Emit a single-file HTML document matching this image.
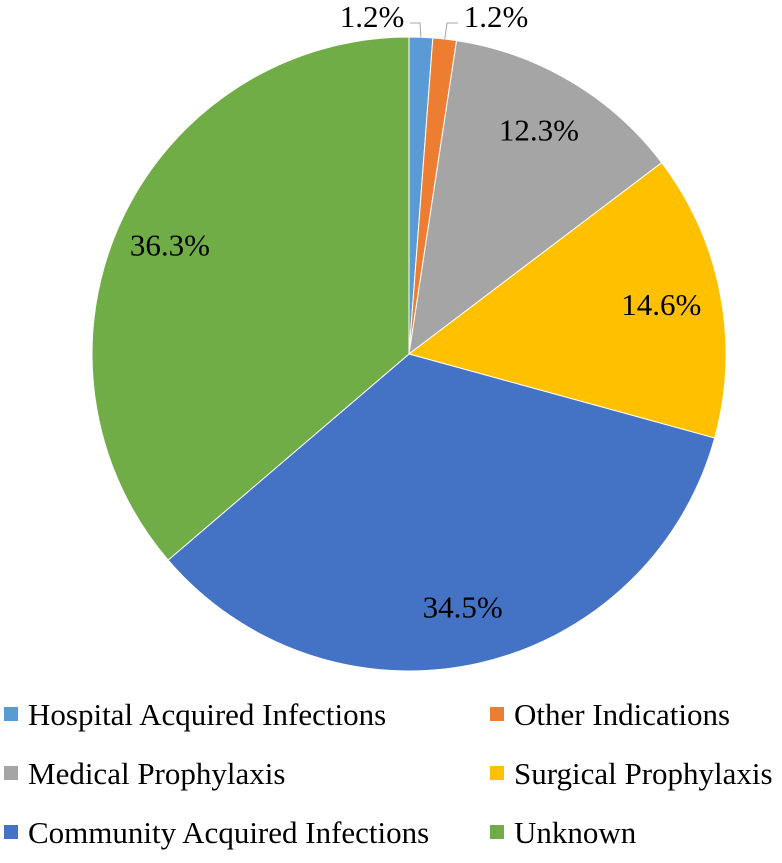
<!DOCTYPE html>
<html><head><meta charset="utf-8"><style>
body{margin:0;background:#fff;width:782px;height:858px;overflow:hidden}
text{font-family:"Liberation Serif","Times New Roman","Tinos","Nimbus Roman","DejaVu Serif",serif;font-size:31px;fill:#000}
</style></head><body>
<svg width="782" height="858">
<g id="slices"></g><g id="labels"></g><g id="legend"></g>
</svg>
<script>
const categories=["Hospital Acquired Infections","Other Indications","Medical Prophylaxis","Surgical Prophylaxis","Community Acquired Infections","Unknown"];
const values=[1.2,1.2,12.3,14.6,34.5,36.3];
const labels=["1.2%","1.2%","12.3%","14.6%","34.5%","36.3%"];
const colors=["#5b9bd5","#ed7d31","#a5a5a5","#ffc000","#4472c4","#70ad47"];
const NS="http://www.w3.org/2000/svg";
const cx=409,cy=354,r=317;
const total=values.reduce((a,b)=>a+b,0);
const sg=document.getElementById('slices'),lg=document.getElementById('labels'),leg=document.getElementById('legend');
function pt(a,rr){return [cx+rr*Math.sin(a),cy-rr*Math.cos(a)];}
let a0=0;
values.forEach((v,i)=>{
  const a1=a0+v/total*2*Math.PI;
  const p0=pt(a0,r),p1=pt(a1,r);
  const p=document.createElementNS(NS,'path');
  p.setAttribute('d',`M${cx},${cy}L${p0[0]},${p0[1]}A${r},${r} 0 ${a1-a0>Math.PI?1:0} 1 ${p1[0]},${p1[1]}Z`);
  p.setAttribute('fill',colors[i]);p.setAttribute('stroke','#fff');p.setAttribute('stroke-width','1');
  
  
  sg.appendChild(p);
  const mid=(a0+a1)/2;
  const t=document.createElementNS(NS,'text');
  if(v<3){
    const e=pt(mid,r);
    const left=i===0;
    const tx=left?372:496,ty=27;
    const hx=left?410:457;
    const pl=document.createElementNS(NS,'polyline');
    pl.setAttribute('points',`${left?hx:hx+1},23 ${left?hx+10:hx-10},23 ${e[0]},${e[1]}`);
    pl.setAttribute('fill','none');pl.setAttribute('stroke','#a5a5a5');
    
    
    lg.appendChild(pl);
    t.setAttribute('x',tx);t.setAttribute('y',ty);
  } else {
    const q=pt(mid,r*0.82);
    t.setAttribute('x',q[0]-3);t.setAttribute('y',q[1]+10);
  }
  t.setAttribute('text-anchor','middle');
  t.textContent=labels[i];
  
  
  lg.appendChild(t);
  a0=a1;
});
categories.forEach((c,i)=>{
  const col=i%2,row=Math.floor(i/2);
  const x=col?490:4,y=714+row*59;
  const g=document.createElementNS(NS,'g');
  
  
  const s=document.createElementNS(NS,'rect');
  s.setAttribute('x',x);s.setAttribute('y',y-7);s.setAttribute('width',14);s.setAttribute('height',14);s.setAttribute('fill',colors[i]);
  
  
  const t=document.createElementNS(NS,'text');
  t.setAttribute('x',x+24);t.setAttribute('y',y+11);t.textContent=c;
  
  
  g.appendChild(s);g.appendChild(t);leg.appendChild(g);
});
</script>
</body></html>
